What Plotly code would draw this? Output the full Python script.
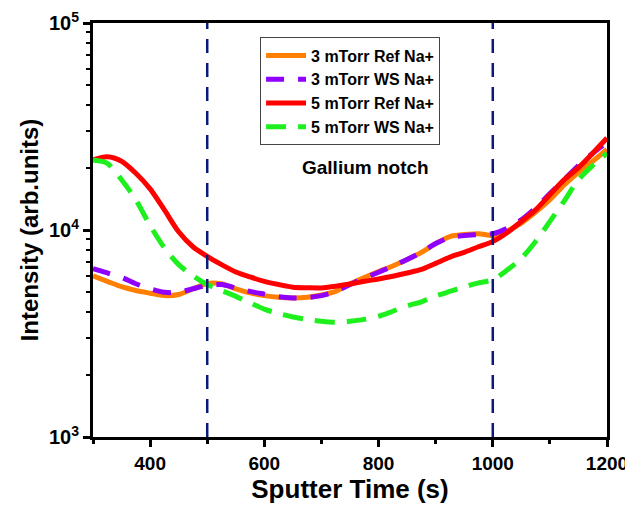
import plotly.graph_objects as go

# Sputter time (s)
time_s = [300, 325, 350, 375, 400, 425, 450, 475, 500, 525, 550, 575, 600,
          625, 650, 675, 700, 725, 750, 775, 800, 825, 850, 875, 900, 925,
          950, 975, 1000, 1025, 1050, 1075, 1100, 1125, 1150, 1175, 1200]

# Na+ intensities
ref_3mtorr = [6000, 5650, 5320, 5100, 4950, 4820, 4880, 5200, 5520, 5500, 5200,
              4970, 4820, 4730, 4700, 4730, 4850, 5050, 5500, 5900, 6300, 6700,
              7200, 7800, 8600, 9300, 9500, 9600, 9400, 9900, 10800, 12200,
              14000, 16500, 19000, 21500, 24500]
ws_3mtorr = [6500, 6200, 5900, 5500, 5200, 5000, 5000, 5200, 5400, 5450, 5250,
             5050, 4900, 4760, 4700, 4720, 4820, 5050, 5450, 5850, 6250, 6700,
             7200, 7800, 8600, 9200, 9400, 9500, 9600, 10200, 11200, 12800,
             15000, 17500, 20500, 23500, 26500]
ref_5mtorr = [21800, 22600, 21500, 18800, 15800, 12500, 9800, 8300, 7450, 6800,
              6270, 5930, 5650, 5450, 5290, 5260, 5250, 5350, 5480, 5650, 5800,
              5980, 6200, 6450, 6900, 7400, 7800, 8300, 8800, 9700, 11000,
              12500, 14800, 17500, 20000, 23500, 27800]
ws_5mtorr = [21800, 21000, 17500, 14000, 10500, 8200, 6800, 6000, 5450, 5100,
             4780, 4450, 4150, 3950, 3800, 3700, 3620, 3580, 3620, 3700, 3830,
             4050, 4300, 4500, 4800, 5050, 5300, 5550, 5750, 6400, 7300, 8800,
             11000, 13800, 17500, 20500, 23500]

series = [
    ("3 mTorr Ref Na+", ref_3mtorr, "#ff8000", "solid"),
    ("3 mTorr WS Na+", ws_3mtorr, "#8f00ff", "18px,14px"),
    ("5 mTorr Ref Na+", ref_5mtorr, "#ff0000", "solid"),
    ("5 mTorr WS Na+", ws_5mtorr, "#1ef01e", "20px,12px"),
]

notch_bounds = [500, 1000]

major_vals = [1e3, 1e4, 1e5]
major_text = ["10<sup>3</sup>", "10<sup>4</sup>", "10<sup>5</sup>"]
minor_vals = [m * 10 ** d for d in (3, 4) for m in range(2, 10)]

FONT = "Liberation Sans"

fig = go.Figure()

for name, vals, color, dash in series:
    fig.add_trace(go.Scatter(
        x=time_s, y=vals, name=name, mode="lines",
        line=dict(color=color, width=5, dash=dash, shape="spline", smoothing=0.8),
    ))

# Gallium notch boundaries
for xb in notch_bounds:
    fig.add_shape(type="line", x0=xb, x1=xb, xref="x", y0=0, y1=1, yref="paper",
                  line=dict(color="#0a1a7a", width=2.5, dash="14px,10px"))

fig.add_annotation(x=778, y=0.65, xref="x", yref="paper", text="<b>Gallium notch</b>",
                   showarrow=False, font=dict(family=FONT, size=19, color="black"))

# page body adds an 8px offset, so the figure is sized to fit the 633x513 window
fig.update_layout(
    width=625, height=505,
    margin=dict(l=85, r=26, t=15, b=76),
    plot_bgcolor="white", paper_bgcolor="white",
    font=dict(family=FONT, color="black"),
    showlegend=True,
    legend=dict(
        x=0.325, y=0.965, xanchor="left", yanchor="top",
        bgcolor="white", bordercolor="#444", borderwidth=1,
        font=dict(family=FONT, size=16, color="black", weight="bold"),
        tracegroupgap=0, itemwidth=40,
    ),
    xaxis=dict(
        range=[300, 1200], tickvals=[400, 600, 800, 1000, 1200],
        ticks="outside", ticklen=7, tickwidth=2.5, tickcolor="black",
        minor=dict(tickvals=[300, 500, 700, 900, 1100], ticks="outside",
                   ticklen=4, tickwidth=2.5, tickcolor="black"),
        showline=True, linecolor="black", linewidth=3, mirror=True,
        showgrid=False, zeroline=False, automargin=False,
        ticklabeloverflow="allow",
        tickfont=dict(family=FONT, size=19, weight="bold"),
        title=dict(text="<b>Sputter Time (s)</b>", font=dict(family=FONT, size=26), standoff=6),
    ),
    yaxis=dict(
        type="log", range=[3, 5], tickvals=major_vals, ticktext=major_text,
        ticks="outside", ticklen=7, tickwidth=2.5, tickcolor="black",
        minor=dict(tickvals=minor_vals, ticks="outside", ticklen=4,
                   tickwidth=2, tickcolor="black"),
        showline=True, linecolor="black", linewidth=3, mirror=True,
        showgrid=False, zeroline=False, automargin=False,
        ticklabeloverflow="allow",
        tickfont=dict(family=FONT, size=20, weight="bold"),
        title=dict(text="<b>Intensity (arb.units)</b>", font=dict(family=FONT, size=24), standoff=4),
    ),
    yaxis2=dict(
        type="log", range=[3, 5], overlaying="y", side="right",
        tickvals=major_vals, ticks="inside", ticklen=7, tickwidth=2.5,
        tickcolor="black", showticklabels=False, automargin=False,
        minor=dict(tickvals=minor_vals, ticks="inside", ticklen=4,
                   tickwidth=2, tickcolor="black"),
        showline=False, showgrid=False, zeroline=False,
    ),
)

fig.write_html("out.html")
